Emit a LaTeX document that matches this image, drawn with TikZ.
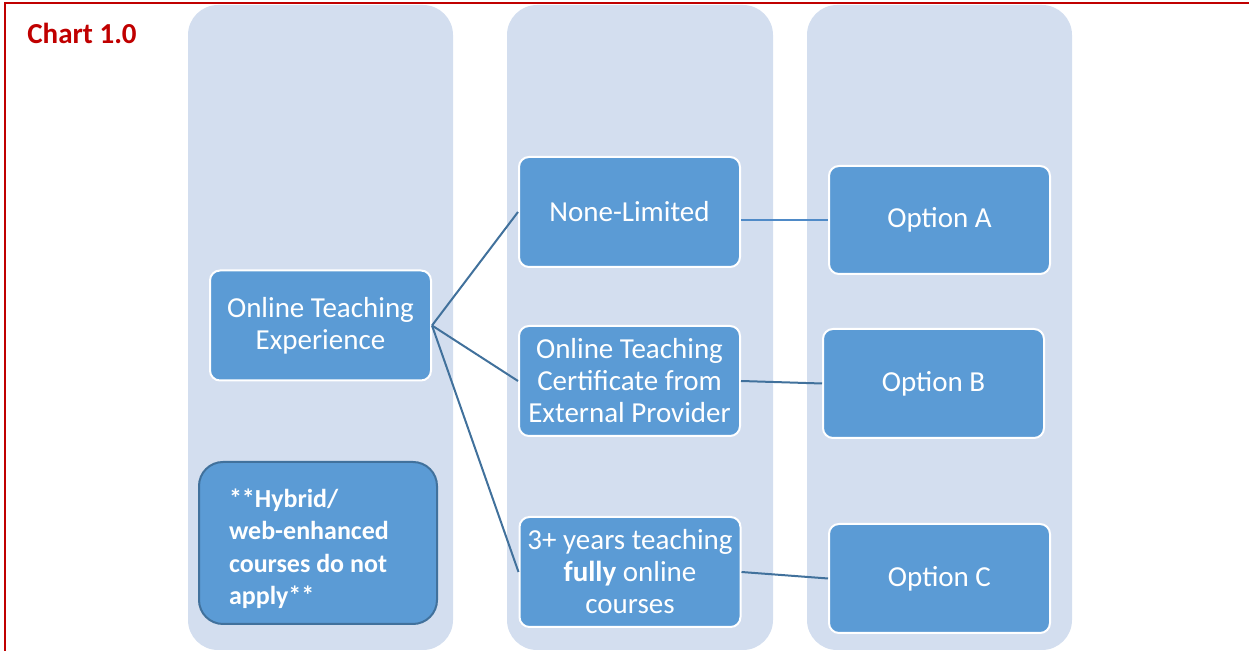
\documentclass[tikz,border=0pt]{standalone}
\usepackage{fontspec}
\setmainfont{Carlito}
\usepackage{xcolor}
\usepackage{tikz}
\usetikzlibrary{calc}

\definecolor{chartred}{HTML}{C00000}
\definecolor{colbg}{HTML}{D3DEEF}
\definecolor{boxblue}{HTML}{5B9BD5}
\definecolor{edgeblue}{HTML}{41719C}
\definecolor{linkblue}{HTML}{4F8AC7}

\begin{document}
\begin{tikzpicture}[x=0.5pt, y=-0.5pt,
	column/.style={fill=colbg, rounded corners=15pt},
	stepbox/.style={rectangle, rounded corners=5pt, fill=boxblue, draw=white,
		line width=1pt, text=white, minimum width=110.5pt, minimum height=55pt,
		inner sep=0pt, align=center, font=\fontsize{14.5}{16}\selectfont},
	link/.style={line width=1pt, edgeblue}]

\useasboundingbox (0,0) rectangle (1249,651);

\fill [column] (188,5) rectangle (453,650);
\fill [column] (507,5) rectangle (773,650);
\fill [column] (807,5) rectangle (1072,650);

\draw [line width=1.2pt, chartred] (5,651) -- (5,3) -- (1249,3);
\node [anchor=west, inner sep=0pt, text=chartred, font=\fontsize{14.5}{16}\selectfont\bfseries]
	(title) at (27,33) {Chart 1.0};

\node [stepbox] (exp) at (320.5,325.5) {Online Teaching\\Experience};
\node [stepbox, draw=edgeblue, rounded corners=12pt, minimum height=81pt,
	text width=89pt, inner xsep=15pt, align=flush left,
	font=\fontsize{13}{16.2}\selectfont\bfseries]
	(hybrid) at (318,543) {\rule{0pt}{15pt}**Hybrid/\\web-enhanced\\courses do not\\apply**};

\node [stepbox] (none) at (629.5,212) {None-Limited};
\node [stepbox] (cert) at (629.5,381) {Online Teaching\\Certificate from\\External Provider};
\node [stepbox] (years) at (630,572) {3+ years teaching\\\textbf{fully} online\\courses};

\node [stepbox, minimum height=54pt] (optA) at (939.5,220) {Option A};
\node [stepbox, minimum height=54.5pt] (optB) at (933.5,383.5) {Option B};
\node [stepbox, minimum height=54.5pt] (optC) at (939.5,578.5) {Option C};

\draw [link] (exp.east) -- (none.west);
\draw [link] (exp.east) -- (cert.west);
\draw [link] (exp.east) -- (years.west);

\draw [line width=0.7pt, linkblue] (optA.west -| none.east) -- (optA.west);
\draw [link] (cert.east) -- (optB.west);
\draw [link] (years.east) -- (optC.west);

\end{tikzpicture}
\end{document}
